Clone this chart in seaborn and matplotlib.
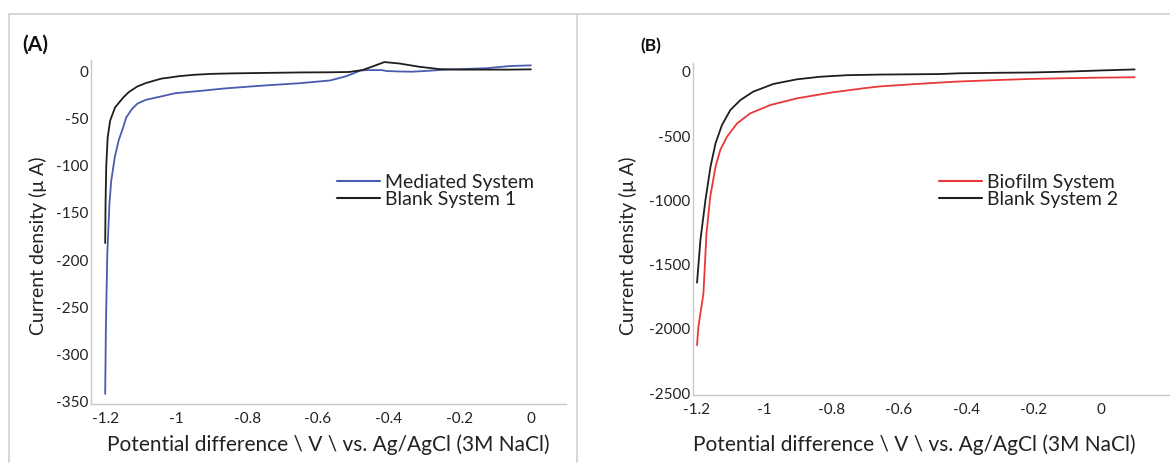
import matplotlib
matplotlib.use("Agg")
import matplotlib.pyplot as plt
from matplotlib.lines import Line2D
import seaborn as sns
import pandas as pd

# Panel A: mediated system vs blank 1 (potential in V, current in uA)
mediated_v = [-1.200, -1.198, -1.194, -1.188, -1.183, -1.173, -1.162, -1.150, -1.141, -1.125,
              -1.109, -1.085, -1.055, -1.002, -0.930, -0.864, -0.758, -0.651, -0.566, -0.523,
              -0.500, -0.481, -0.460, -0.420, -0.407, -0.370, -0.334, -0.300, -0.238, -0.124,
              -0.059, 0.0]
mediated_i = [-342, -270, -193, -140, -116, -91, -73, -60, -49, -40,
              -34, -30, -27.5, -23, -20.5, -18, -15, -12.4, -9.5, -5.3,
              -2, 1, 1.5, 1.5, 0.5, 0, -0.2, 0.5, 2, 3.5,
              5.8, 6.5]
blank1_v = [-1.200, -1.199, -1.197, -1.193, -1.186, -1.172, -1.150, -1.134, -1.110, -1.087,
            -1.060, -1.041, -1.020, -0.993, -0.950, -0.900, -0.843, -0.750, -0.650, -0.560,
            -0.512, -0.475, -0.445, -0.413, -0.371, -0.314, -0.257, -0.200, -0.124, -0.059, 0.0]
blank1_i = [-182, -140, -100, -70, -52, -38, -28, -22, -16, -12.5,
            -9.5, -7.5, -6.5, -5, -3.5, -2.5, -2, -1.5, -1, -0.8,
            -0.5, 1.5, 5.5, 10, 8.5, 5, 2.5, 2, 2, 2, 2.3]

# Panel B: biofilm system vs blank 2
biofilm_v = [-1.200, -1.196, -1.190, -1.181, -1.172, -1.161, -1.145, -1.131, -1.111, -1.081,
             -1.042, -0.982, -0.903, -0.804, -0.706, -0.656, -0.540, -0.430, -0.300, -0.208,
             -0.100, 0.000, 0.100]
biofilm_i = [-2127, -1984, -1880, -1725, -1258, -974, -737, -607, -504, -400,
             -322, -257, -205, -161, -127, -112, -92, -75, -62, -54,
             -48, -44, -41]
blank2_v = [-1.200, -1.190, -1.175, -1.160, -1.145, -1.126, -1.101, -1.071, -1.033, -0.973,
            -0.903, -0.834, -0.755, -0.656, -0.560, -0.480, -0.420, -0.300, -0.208, -0.100,
            0.000, 0.100]
blank2_i = [-1640, -1309, -997, -737, -555, -413, -296, -218, -153, -93,
            -57, -37, -25, -20, -18, -16, -10, -6, -4, 3,
            12, 20]

x_ticks = [-1.2, -1, -0.8, -0.6, -0.4, -0.2, 0]
x_tick_labels = ["-1.2", "-1", "-0.8", "-0.6", "-0.4", "-0.2", "0"]
ticks_a = [0, -50, -100, -150, -200, -250, -300, -350]
ticks_b = [0, -500, -1000, -1500, -2000, -2500]

x_title = "Potential difference \\ V \\ vs. Ag/AgCl (3M NaCl)"
y_title = "Current density (\u03bc A)"

sns.set_style("white")
plt.rcParams["font.family"] = ["Lato", "DejaVu Sans"]
plt.rcParams["axes.unicode_minus"] = False

W, H = 1170, 466
fig = plt.figure(figsize=(W / 100, H / 100), dpi=100)


def px_rect(left, top, right, bottom):
    return [left / W, 1 - bottom / H, (right - left) / W, (bottom - top) / H]


def style_axes(ax):
    for side in ["top", "right"]:
        ax.spines[side].set_visible(False)
    for side in ["left", "bottom"]:
        ax.spines[side].set_color("#c8c8c8")
        ax.spines[side].set_linewidth(1.0)
    ax.tick_params(axis="both", length=0, labelsize=11, colors="#222222")
    ax.tick_params(axis="y", pad=2)
    ax.tick_params(axis="x", pad=6)
    ax.set_xlabel("")
    ax.set_ylabel("")


def make_df(series):
    rows = []
    for name, xs, ys in series:
        for k, (x, y) in enumerate(zip(xs, ys)):
            rows.append({"series": name, "order": k, "v": x, "i": y})
    return pd.DataFrame(rows)


# panel A
ax_a = fig.add_axes(px_rect(91, 60, 566, 404))
df_a = make_df([("Mediated System", mediated_v, mediated_i),
                ("Blank System 1", blank1_v, blank1_i)])
sns.lineplot(data=df_a, x="v", y="i", hue="series", units="series", estimator=None, sort=False,
             palette={"Mediated System": "#4a5bb0", "Blank System 1": "#1e1e1e"},
             linewidth=1.3, ax=ax_a, legend=False)
ax_a.set_xlim(-1.24, 0.099)
ax_a.set_ylim(-352.7, 12.2)
ax_a.set_xticks(x_ticks)
ax_a.set_xticklabels(x_tick_labels)
ax_a.set_yticks(ticks_a)
style_axes(ax_a)

# panel B
ax_b = fig.add_axes(px_rect(693, 63, 1170, 395))
df_b = make_df([("Biofilm System", biofilm_v, biofilm_i),
                ("Blank System 2", blank2_v, blank2_i)])
sns.lineplot(data=df_b, x="v", y="i", hue="series", units="series", estimator=None, sort=False,
             palette={"Biofilm System": "#e8383a", "Blank System 2": "#1e1e1e"},
             linewidth=1.3, ax=ax_b, legend=False)
ax_b.set_xlim(-1.212, 0.205)
ax_b.set_ylim(-2515, 70)
ax_b.set_xticks(x_ticks)
ax_b.set_xticklabels(x_tick_labels)
ax_b.set_yticks(ticks_b)
style_axes(ax_b)

# legends
for ax, names, colors, x0 in [
    (ax_a, ["Mediated System", "Blank System 1"], ["#4a5bb0", "#1e1e1e"], 337),
    (ax_b, ["Biofilm System", "Blank System 2"], ["#e8383a", "#1e1e1e"], 939),
]:
    handles = [Line2D([], [], color=c, lw=1.5) for c in colors]
    fig.legend(handles, names, loc="upper left", bbox_to_anchor=(x0 / W, 1 - 174 / H),
               frameon=False, fontsize=14, handlelength=2.2, handletextpad=0.25,
               labelspacing=-0.02, borderpad=0, borderaxespad=0,
               labelcolor="#222222")

# titles and axis labels
fig.text(22 / W, 1 - 45 / H, "(A)", fontsize=15, fontweight="bold", va="center", ha="left",
         color="#111111")
fig.text(640 / W, 1 - 46 / H, "(B)", fontsize=12.5, fontweight="bold", va="center", ha="left",
         color="#111111")
for cx in [328, 914]:
    fig.text(cx / W, 1 - 445 / H, x_title, fontsize=15, ha="center", va="center",
             color="#222222")
for cx in [38, 628]:
    fig.text(cx / W, 1 - 246 / H, y_title, fontsize=14, ha="center", va="center",
             rotation=90, color="#222222")

# panel frames
frame_color = "#d0d0d0"
fig.add_artist(Line2D([9 / W, 1], [1 - 14 / H, 1 - 14 / H], color=frame_color, lw=1.2))
fig.add_artist(Line2D([9 / W, 9 / W], [1 - 14 / H, 1 - 462 / H], color=frame_color, lw=1.2))
fig.add_artist(Line2D([577 / W, 577 / W], [1 - 14 / H, 1 - 462 / H], color=frame_color, lw=1.2))

fig.savefig("out.png", dpi=100)
